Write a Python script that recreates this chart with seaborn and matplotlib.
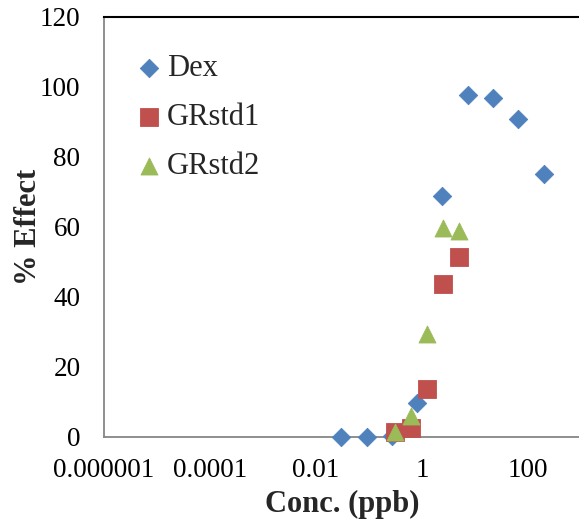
import matplotlib
matplotlib.use("Agg")
import matplotlib.pyplot as plt
import seaborn as sns
import pandas as pd
import numpy as np
from matplotlib.ticker import FixedLocator, NullLocator

# Data
dex_conc = [0.03, 0.09, 0.27, 0.81, 2.43, 7.29, 21.87, 65.61, 196.83]
dex_effect = [0.0, 0.0, 0.3, 9.8, 68.8, 97.6, 96.9, 90.8, 75.1]
gr1_conc = [0.31, 0.62, 1.25, 2.5, 5.0]
gr1_effect = [1.4, 2.5, 13.6, 43.8, 51.4]
gr2_conc = [0.31, 0.62, 1.25, 2.5, 5.0]
gr2_effect = [1.4, 6.0, 29.3, 59.8, 58.9]
series_names = ["Dex", "GRstd1", "GRstd2"]
x_ticks = [1e-6, 1e-4, 1e-2, 1, 100]
x_tick_labels = ["0.000001", "0.0001", "0.01", "1", "100"]
y_ticks = [0, 20, 40, 60, 80, 100, 120]

df = pd.DataFrame({
    "conc": dex_conc + gr1_conc + gr2_conc,
    "effect": dex_effect + gr1_effect + gr2_effect,
    "series": [series_names[0]] * len(dex_conc) + [series_names[1]] * len(gr1_conc)
              + [series_names[2]] * len(gr2_conc),
})

sns.set_style("white")
plt.rcParams["font.family"] = ["Liberation Serif", "DejaVu Serif"]

fig = plt.figure(figsize=(5.79, 5.26), dpi=100)
ax = fig.add_axes([104 / 579, 1 - 437 / 526, 477 / 579, (437 - 17) / 526])

palette = {"Dex": "#4F81BD", "GRstd1": "#C0504D", "GRstd2": "#9BBB59"}
markers = {"Dex": "D", "GRstd1": "s", "GRstd2": "^"}
sizes_map = {"Dex": 88, "GRstd1": 150, "GRstd2": 150}

for name in series_names:
    sub = df[df["series"] == name]
    sns.scatterplot(data=sub, x="conc", y="effect", color=palette[name],
                    marker=markers[name], s=sizes_map[name], linewidth=0.6,
                    edgecolor=palette[name], ax=ax, label=name, zorder=3,
                    clip_on=False)

ax.set_xscale("log")
ax.set_xlim(1e-6, 1000)
ax.set_ylim(0, 120)
ax.xaxis.set_major_locator(FixedLocator(x_ticks))
ax.xaxis.set_minor_locator(NullLocator())
ax.set_xticks(x_ticks)
ax.set_xticklabels(x_tick_labels)
ax.set_yticks(y_ticks)

ax.tick_params(axis="both", which="major", labelsize=19.5, colors="#000000",
               direction="out", length=6, width=1.2)
ax.tick_params(axis="x", color="#868686", pad=9)
ax.tick_params(axis="y", color="#868686", pad=11)

for sp in ["left", "bottom"]:
    ax.spines[sp].set_color("#868686")
    ax.spines[sp].set_linewidth(1.3)
ax.spines["top"].set_color("#000000")
ax.spines["top"].set_linewidth(1.5)
ax.spines["right"].set_visible(False)

ax.set_xlabel("Conc. (ppb)", fontsize=22, fontweight="bold", labelpad=5)
ax.set_ylabel("% Effect", fontsize=22, fontweight="bold", labelpad=-2)

leg = ax.legend(loc="upper left", bbox_to_anchor=(0.036, 0.94), frameon=False,
                fontsize=22, handletextpad=0.1, labelspacing=0.64,
                handlelength=1.0, borderaxespad=0, markerscale=1.0)

ax.grid(False)
fig.savefig("out.png", dpi=100)
